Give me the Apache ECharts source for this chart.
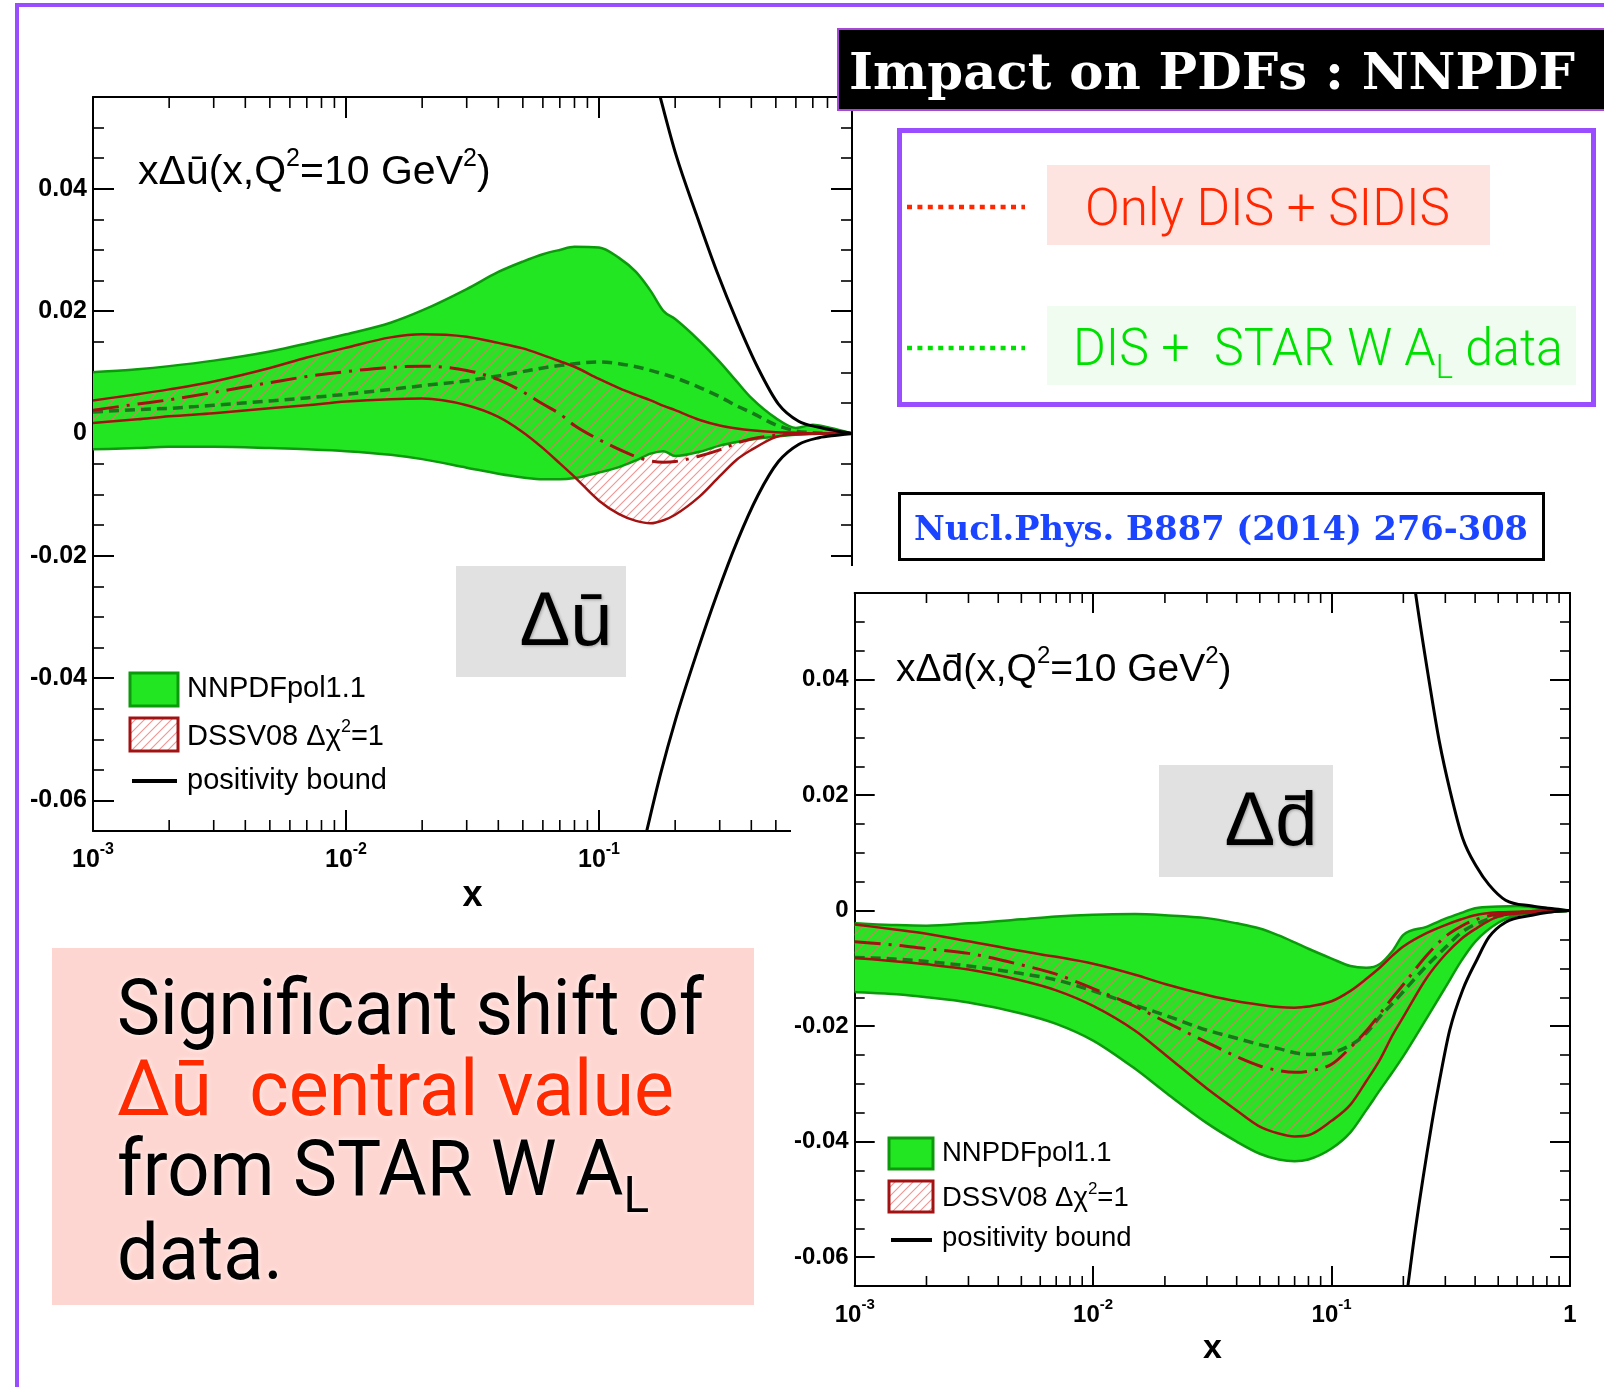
<!DOCTYPE html>
<html>
<head>
<meta charset="utf-8">
<title>Impact on PDFs : NNPDF</title>
<script src="https://cdn.jsdelivr.net/npm/echarts@6.0.0/dist/echarts.min.js"></script>
<style>
  html, body { margin: 0; padding: 0; background: #ffffff; }
  #slide { position: absolute; left: 0; top: 0; width: 1604px; height: 1387px; }
  #dbarPanel { position: absolute; left: 791px; top: 566px; width: 813px; height: 821px; background: #ffffff; }
</style>
</head>
<body>
<div id="slide"></div>
<div id="dbarPanel"></div>
<script>
// ---------------------------------------------------------------------------
// Data: x grid and PDF curves at Q^2 = 10 GeV^2
// ---------------------------------------------------------------------------
const X_GRID = [0.001, 0.0015, 0.002, 0.003, 0.005, 0.007, 0.01, 0.015, 0.02, 0.03,
                0.04, 0.05, 0.06, 0.07, 0.08, 0.1, 0.12, 0.14, 0.16, 0.18,
                0.2, 0.25, 0.3, 0.35, 0.4, 0.5, 0.6, 0.7, 0.8, 1.0];

// x * Delta u-bar
const UBAR_NNPDF_HI = [0.0100, 0.0105, 0.0110, 0.0119, 0.0134, 0.0147, 0.0162, 0.0181, 0.0201, 0.0236,
                       0.0264, 0.0281, 0.0293, 0.0300, 0.0305, 0.0304, 0.0287, 0.0264, 0.0233, 0.0200,
                       0.0187, 0.0151, 0.0117, 0.0085, 0.0058, 0.0025, 0.0009, 0.0014, 0.0010, 0];
const UBAR_NNPDF_LO = [-0.0026, -0.0024, -0.0022, -0.0022, -0.0024, -0.0026, -0.0029, -0.0035, -0.0042, -0.0056,
                       -0.0066, -0.0072, -0.0075, -0.0075, -0.0073, -0.0064, -0.0055, -0.0044, -0.0033, -0.0029,
                       -0.0037, -0.0030, -0.0020, -0.0014, -0.0010, -0.0005, -0.0002, -0.0001, 0, 0];
const UBAR_NNPDF_CV = [0.0035, 0.0039, 0.0041, 0.0046, 0.0053, 0.0058, 0.0064, 0.0072, 0.0078, 0.0086,
                       0.0094, 0.0101, 0.0107, 0.0111, 0.0114, 0.0117, 0.0114, 0.0109, 0.0103, 0.0097,
                       0.0091, 0.0075, 0.0060, 0.0045, 0.0034, 0.0014, 0.0004, 0.0001, 0, 0];
const UBAR_DSSV_HI  = [0.0054, 0.0064, 0.0072, 0.0085, 0.0107, 0.0124, 0.0140, 0.0157, 0.0162, 0.0158,
                       0.0148, 0.0139, 0.0128, 0.0118, 0.0109, 0.0089, 0.0074, 0.0063, 0.0054, 0.0045,
                       0.0038, 0.0022, 0.0013, 0.0008, 0.0005, 0.0002, 0.0001, 0, 0, 0];
const UBAR_DSSV_LO  = [0.0017, 0.0023, 0.0028, 0.0033, 0.0041, 0.0046, 0.0052, 0.0056, 0.0057, 0.0046,
                       0.0027, 0.0002, -0.0024, -0.0049, -0.0071, -0.0110, -0.0132, -0.0143, -0.0147, -0.0142,
                       -0.0133, -0.0103, -0.0070, -0.0043, -0.0027, -0.0006, -0.0001, 0, 0, 0];
const UBAR_DSSV_CV  = [0.0038, 0.0048, 0.0055, 0.0067, 0.0083, 0.0093, 0.0101, 0.0108, 0.0110, 0.0103,
                       0.0088, 0.0068, 0.0048, 0.0032, 0.0013, -0.0010, -0.0026, -0.0038, -0.0045, -0.0047,
                       -0.0046, -0.0037, -0.0027, -0.0016, -0.0009, -0.0003, -0.0001, 0, 0, 0];
const UBAR_POS_X  = [0.141, 0.155, 0.175, 0.201, 0.243, 0.292, 0.352, 0.425, 0.512, 0.615, 0.741, 0.871, 1.0];
const UBAR_POS_UP = [0.071, 0.063, 0.0548, 0.0457, 0.0357, 0.0265, 0.0182, 0.0107, 0.0048, 0.0020, 0.0010, 0.0004, 0];
const UBAR_POS_DN = [-0.072, -0.0647, -0.0557, -0.0467, -0.0360, -0.0264, -0.0176, -0.0101, -0.0046, -0.0018, -0.0007, -0.0003, 0];

// x * Delta d-bar
const DBAR_NNPDF_HI = [-0.0022, -0.0025, -0.0026, -0.0022, -0.0015, -0.0010, -0.0007, -0.0006, -0.0008, -0.0013,
                       -0.0022, -0.0031, -0.0043, -0.0055, -0.0066, -0.0083, -0.0096, -0.0099, -0.0092, -0.0070,
                       -0.0042, -0.0028, -0.0014, -0.0004, 0.0004, 0.0007, 0.0008, 0.0006, 0.0004, 0];
const DBAR_NNPDF_LO = [-0.0141, -0.0145, -0.0150, -0.0159, -0.0178, -0.0196, -0.0225, -0.0274, -0.0314, -0.0368,
                       -0.0400, -0.0421, -0.0431, -0.0434, -0.0431, -0.0412, -0.0384, -0.0345, -0.0310, -0.0280,
                       -0.0252, -0.0187, -0.0133, -0.0087, -0.0054, -0.0021, -0.0008, -0.0005, -0.0003, 0];
const DBAR_NNPDF_CV = [-0.0081, -0.0084, -0.0088, -0.0096, -0.0109, -0.0120, -0.0139, -0.0164, -0.0181, -0.0207,
                       -0.0221, -0.0232, -0.0239, -0.0246, -0.0249, -0.0246, -0.0233, -0.0212, -0.0183, -0.0161,
                       -0.0140, -0.0096, -0.0064, -0.0038, -0.0024, -0.0010, -0.0004, -0.0002, -0.0001, 0];
const DBAR_DSSV_HI  = [-0.0024, -0.0033, -0.0040, -0.0053, -0.0070, -0.0080, -0.0092, -0.0111, -0.0127, -0.0146,
                       -0.0157, -0.0163, -0.0167, -0.0168, -0.0166, -0.0157, -0.0139, -0.0118, -0.0098, -0.0078,
                       -0.0062, -0.0039, -0.0025, -0.0015, -0.0008, -0.0003, -0.0002, -0.0001, 0, 0];
const DBAR_DSSV_LO  = [-0.0082, -0.0088, -0.0093, -0.0102, -0.0121, -0.0138, -0.0165, -0.0208, -0.0249, -0.0308,
                       -0.0346, -0.0374, -0.0386, -0.0391, -0.0389, -0.0364, -0.0336, -0.0295, -0.0257, -0.0216,
                       -0.0184, -0.0117, -0.0076, -0.0049, -0.0032, -0.0010, -0.0005, -0.0003, -0.0001, 0];
const DBAR_DSSV_CV  = [-0.0054, -0.0060, -0.0066, -0.0074, -0.0094, -0.0110, -0.0135, -0.0166, -0.0192, -0.0228,
                       -0.0253, -0.0269, -0.0277, -0.0280, -0.0278, -0.0266, -0.0237, -0.0208, -0.0178, -0.0151,
                       -0.0128, -0.0078, -0.0045, -0.0027, -0.0016, -0.0006, -0.0003, -0.0001, 0, 0];
const DBAR_POS_X  = [0.19, 0.209, 0.225, 0.263, 0.284, 0.313, 0.355, 0.407, 0.457, 0.537, 0.692, 0.813, 1.0];
const DBAR_POS_UP = [0.078, 0.065, 0.055, 0.037, 0.029, 0.021, 0.0125, 0.0075, 0.0045, 0.0018, 0.0008, 0.0004, 0];
const DBAR_POS_DN = [-0.078, -0.065, -0.055, -0.037, -0.0293, -0.0207, -0.0137, -0.0085, -0.0046, -0.0020, -0.0008, -0.0003, 0];

// axis ranges and log minor tick positions
const X_RANGE = [0.001, 1];
const Y_RANGE = [-0.065, 0.055];
const MINOR_X = [0.002, 0.003, 0.004, 0.005, 0.006, 0.007, 0.008, 0.009,
                 0.02, 0.03, 0.04, 0.05, 0.06, 0.07, 0.08, 0.09,
                 0.2, 0.3, 0.4, 0.5, 0.6, 0.7, 0.8, 0.9];

// slide texts
const HEADLINE = 'Impact on PDFs : NNPDF';
const KEY_DIS = 'Only DIS + SIDIS';
const REFERENCE = 'Nucl.Phys. B887 (2014) 276-308';

// ---------------------------------------------------------------------------
// Styles
// ---------------------------------------------------------------------------
const SANS = '"Liberation Sans", Arial, Helvetica, sans-serif';
const SLIDE_FONT = 'Roboto, "Liberation Sans", sans-serif';
const SERIF = '"DejaVu Serif", "Liberation Serif", serif';
const GREEN_FILL = '#22e622';
const GREEN_EDGE = '#0c9a0c';
const GREEN_CV = '#17781a';
const DSSV_RED = '#a31212';
const PURPLE = '#9a4dff';

function hatchPattern() {
  const n = 9;
  const c = document.createElement('canvas');
  c.width = n; c.height = n;
  const g = c.getContext('2d');
  g.strokeStyle = 'rgba(240, 110, 110, 0.75)';
  g.lineWidth = 1.1;
  g.beginPath();
  g.moveTo(0, n); g.lineTo(n, 0);
  g.moveTo(-n, n); g.lineTo(n, -n);
  g.moveTo(0, 2 * n); g.lineTo(2 * n, 0);
  g.stroke();
  return { image: c, repeat: 'repeat' };
}
const HATCH = hatchPattern();

const measureCtx = document.createElement('canvas').getContext('2d');
function textWidth(parts) {
  let w = 0;
  for (const [s, f] of parts) { measureCtx.font = f; w += measureCtx.measureText(s).width; }
  return w;
}
function fitScale(parts, target) { return target / textWidth(parts); }

// ---------------------------------------------------------------------------
// Monotone cubic path through pixel points (no overshoot between samples)
// ---------------------------------------------------------------------------
function monoSegments(P) {
  const n = P.length, dx = [], m = [], t = new Array(n);
  for (let i = 0; i < n - 1; i++) {
    dx[i] = P[i + 1][0] - P[i][0];
    m[i] = dx[i] === 0 ? 0 : (P[i + 1][1] - P[i][1]) / dx[i];
  }
  t[0] = m[0]; t[n - 1] = m[n - 2];
  for (let i = 1; i < n - 1; i++) t[i] = (m[i - 1] * m[i] <= 0) ? 0 : (m[i - 1] + m[i]) / 2;
  for (let i = 0; i < n - 1; i++) {
    if (m[i] === 0) { t[i] = 0; t[i + 1] = 0; continue; }
    const a = t[i] / m[i], b = t[i + 1] / m[i], s = a * a + b * b;
    if (s > 9) { const k = 3 / Math.sqrt(s); t[i] = k * a * m[i]; t[i + 1] = k * b * m[i]; }
  }
  const segs = [];
  for (let i = 0; i < n - 1; i++) {
    const h = dx[i] / 3;
    segs.push([P[i], [P[i][0] + h, P[i][1] + t[i] * h], [P[i + 1][0] - h, P[i + 1][1] - t[i + 1] * h], P[i + 1]]);
  }
  return segs;
}
const f2 = v => v.toFixed(2);
function forwardPath(segs, cmd) {
  let d = cmd + f2(segs[0][0][0]) + ',' + f2(segs[0][0][1]);
  for (const s of segs) d += 'C' + f2(s[1][0]) + ',' + f2(s[1][1]) + ' ' + f2(s[2][0]) + ',' + f2(s[2][1]) + ' ' + f2(s[3][0]) + ',' + f2(s[3][1]);
  return d;
}
function reversePath(segs, cmd) {
  const r = segs.slice().reverse().map(s => [s[3], s[2], s[1], s[0]]);
  return forwardPath(r, cmd);
}

// a single curve (line) drawn through the cartesian scales
function curveSeries(name, xs, ys, style) {
  return {
    type: 'custom', name, silent: true, animation: false, clip: true, z: 3,
    data: xs.map((x, i) => [x, ys[i]]),
    renderItem(params, api) {
      if (params.dataIndex !== 0) return null;
      const P = xs.map((x, i) => api.coord([x, ys[i]]));
      return { type: 'path', shape: { pathData: forwardPath(monoSegments(P), 'M') },
               style: Object.assign({ fill: 'none', lineJoin: 'round' }, style) };
    }
  };
}
// a filled band between two curves
function bandSeries(name, xs, hi, lo, fill) {
  return {
    type: 'custom', name, silent: true, animation: false, clip: true, z: 2,
    data: xs.map((x, i) => [x, lo[i], hi[i]]),
    renderItem(params, api) {
      if (params.dataIndex !== 0) return null;
      const H = xs.map((x, i) => api.coord([x, hi[i]]));
      const L = xs.map((x, i) => api.coord([x, lo[i]]));
      const d = forwardPath(monoSegments(H), 'M') + reversePath(monoSegments(L), 'L') + 'Z';
      return { type: 'path', shape: { pathData: d }, style: { fill, stroke: 'none' } };
    }
  };
}

// ---------------------------------------------------------------------------
// Axes and series shared by both panels
// ---------------------------------------------------------------------------
function panelAxes(o) {
  const line = { show: true, onZero: false, lineStyle: { color: '#000', width: 2 } };
  const tick = { show: true, inside: true, length: o.major, lineStyle: { color: '#000', width: 2 } };
  const fmtX = v => {
    const e = Math.round(Math.log10(v));
    return e === 0 ? '{b|1}' : '{b|10}{s|' + e + '}';
  };
  const sup = Math.round(o.label * 0.64);
  const xRich = {
    b: { fontFamily: SANS, fontWeight: 'bold', fontSize: o.label, color: '#000', lineHeight: o.label + 6, verticalAlign: 'bottom' },
    s: { fontFamily: SANS, fontWeight: 'bold', fontSize: sup, color: '#000', lineHeight: sup + 2, verticalAlign: 'top' }
  };
  const xBase = { type: 'log', logBase: 10, min: X_RANGE[0], max: X_RANGE[1], axisLine: line, axisTick: tick,
                  splitLine: { show: false }, minorTick: { show: false } };
  const yBase = { type: 'value', min: Y_RANGE[0], max: Y_RANGE[1], splitNumber: 6, axisLine: line, axisTick: tick,
                  minorTick: { show: true, splitNumber: 4, length: o.minor, lineStyle: { color: '#000', width: 1.6 } },
                  splitLine: { show: false }, minorSplitLine: { show: false } };
  return {
    xAxis: [
      { ...xBase, position: 'bottom',
        axisLabel: { margin: o.xMargin, formatter: fmtX, rich: xRich, color: '#000' },
        name: 'x', nameLocation: 'middle', nameGap: o.nameGap,
        nameTextStyle: { fontFamily: SANS, fontWeight: 'bold', fontSize: o.name, color: '#000' } },
      { ...xBase, position: 'top', axisLabel: { show: false } }
    ],
    yAxis: [
      { ...yBase, position: 'left',
        axisLabel: { margin: 6, showMinLabel: false, showMaxLabel: false, fontFamily: SANS,
                     fontWeight: 'bold', fontSize: o.label, color: '#000' } },
      { ...yBase, position: 'right', axisLabel: { show: false } }
    ]
  };
}

function minorTickSeries(len) {
  return {
    type: 'custom', name: 'log minor ticks', silent: true, animation: false, clip: false, z: 5,
    data: MINOR_X.map(x => [x, 0]),
    renderItem(params, api) {
      const cs = params.coordSys;
      const px = api.coord([api.value(0), 0])[0];
      const st = { stroke: '#000', lineWidth: 1.6 };
      const b = cs.y + cs.height;
      return { type: 'group', children: [
        { type: 'line', shape: { x1: px, y1: b, x2: px, y2: b - len }, style: st },
        { type: 'line', shape: { x1: px, y1: cs.y, x2: px, y2: cs.y + len }, style: st }
      ] };
    }
  };
}

function panelSeries(c) {
  return [
    bandSeries('NNPDFpol1.1', c.x, c.nnHi, c.nnLo, GREEN_FILL),
    bandSeries('DSSV08', c.x, c.dsHi, c.dsLo, HATCH),
    curveSeries('NNPDF upper', c.x, c.nnHi, { stroke: GREEN_EDGE, lineWidth: 2.5 }),
    curveSeries('NNPDF lower', c.x, c.nnLo, { stroke: GREEN_EDGE, lineWidth: 2.5 }),
    curveSeries('NNPDF central', c.x, c.nnCv, { stroke: GREEN_CV, lineWidth: 3.5, lineDash: [10, 6] }),
    curveSeries('DSSV upper', c.x, c.dsHi, { stroke: DSSV_RED, lineWidth: 2.5 }),
    curveSeries('DSSV lower', c.x, c.dsLo, { stroke: DSSV_RED, lineWidth: 2.5 }),
    curveSeries('DSSV central', c.x, c.dsCv, { stroke: DSSV_RED, lineWidth: 3, lineDash: [26, 8, 3, 8] }),
    curveSeries('positivity bound', c.posX, c.posUp, { stroke: '#000', lineWidth: 3 }),
    curveSeries('positivity bound (lower)', c.posX, c.posDn, { stroke: '#000', lineWidth: 3 }),
    minorTickSeries(c.minorLen)
  ];
}

// in-frame legend, title and flavour tag of one panel
function panelDecor(d) {
  const t = (x, y, style) => ({ type: 'text', x, y, z: 60,
    style: Object.assign({ align: 'left', textAlign: 'left', verticalAlign: 'middle', textVerticalAlign: 'middle', fill: '#000' }, style) });
  const supStyle = (fs, lh) => ({ fontFamily: SANS, fontSize: fs, fill: '#000', lineHeight: lh, verticalAlign: 'top' });
  const mainStyle = (fs, lh) => ({ fontFamily: SANS, fontSize: fs, fill: '#000', lineHeight: lh, verticalAlign: 'bottom' });
  return [
    t(d.title.x, d.title.y, {
      text: '{t|' + d.title.head + '(x,Q}{s|2}{t|=10 GeV}{s|2}{t|)}',
      rich: { t: mainStyle(d.title.fs, d.title.fs + 6), s: supStyle(Math.round(d.title.fs * 0.62), Math.round(d.title.fs * 0.62) + 2) }
    }),
    // legend
    { type: 'rect', z: 60, shape: { x: d.leg.x, y: d.leg.y1, width: d.leg.w, height: d.leg.h },
      style: { fill: GREEN_FILL, stroke: GREEN_EDGE, lineWidth: 3 } },
    { type: 'rect', z: 60, shape: { x: d.leg.x, y: d.leg.y2, width: d.leg.w, height: d.leg.h },
      style: { fill: HATCH, stroke: DSSV_RED, lineWidth: 3 } },
    { type: 'line', z: 60, shape: { x1: d.leg.x + 2, y1: d.leg.yLine, x2: d.leg.x + d.leg.w - 1, y2: d.leg.yLine },
      style: { stroke: '#000', lineWidth: 4 } },
    t(d.leg.tx, d.leg.ty[0], { text: 'NNPDFpol1.1', fontFamily: SANS, fontSize: d.leg.fs }),
    t(d.leg.tx, d.leg.ty[1], {
      text: '{a|DSSV08 Δχ}{s|2}{a|=1}',
      rich: { a: mainStyle(d.leg.fs, d.leg.fs + 4), s: supStyle(Math.round(d.leg.fs * 0.62), Math.round(d.leg.fs * 0.62) + 2) }
    }),
    t(d.leg.tx, d.leg.ty[2], { text: 'positivity bound', fontFamily: SANS, fontSize: d.leg.fs }),
    // flavour tag
    { type: 'rect', z: 60, shape: d.tag.box, style: { fill: '#e1e1e1' } },
    t(d.tag.cx, d.tag.cy, { text: d.tag.text, fontFamily: SANS, fontSize: 76, align: 'center', textAlign: 'center',
      textShadowColor: 'rgba(0,0,0,0.3)', textShadowBlur: 3, textShadowOffsetX: 1, textShadowOffsetY: 1 })
  ];
}

// ---------------------------------------------------------------------------
// Slide chart (u-bar panel and slide annotations)
// ---------------------------------------------------------------------------
const slide = echarts.init(document.getElementById('slide'), null, { renderer: 'canvas', width: 1604, height: 1387 });

const headFont = 'bold 50px "DejaVu Serif"';
const keyFont = '300 52px Roboto';
const keySubFont = '300 34px Roboto';
const refFont = 'bold 34px "DejaVu Serif"';
const msgFont = '400 78px Roboto';
const msgSubFont = '400 50px Roboto';
const msgShadow = { textShadowColor: 'rgba(255,255,255,0.9)', textShadowBlur: 5 };

const slideText = (x, y, scaleX, style) => ({ type: 'text', x, y, scaleX, z: 60,
  style: Object.assign({ align: 'left', textAlign: 'left', verticalAlign: 'middle', textVerticalAlign: 'middle' }, style) });

const slideGraphics = [
  // slide frame
  { type: 'line', z: 60, shape: { x1: 15, y1: 5, x2: 1604, y2: 5 }, style: { stroke: PURPLE, lineWidth: 4 } },
  { type: 'line', z: 60, shape: { x1: 17, y1: 3, x2: 17, y2: 1387 }, style: { stroke: PURPLE, lineWidth: 4 } },
  // headline
  { type: 'rect', z: 60, shape: { x: 838, y: 29, width: 770, height: 81 }, style: { fill: '#000', stroke: '#a848d8', lineWidth: 2 } },
  slideText(849, 76, fitScale([[HEADLINE, headFont]], 726),
    { text: HEADLINE, fontFamily: SERIF, fontWeight: 'bold', fontSize: 50, fill: '#fff' }),
  // fit key
  { type: 'rect', z: 60, shape: { x: 899.5, y: 130.5, width: 694, height: 274 }, style: { fill: '#fff', stroke: PURPLE, lineWidth: 5 } },
  { type: 'line', z: 60, shape: { x1: 907, y1: 207, x2: 1025, y2: 207 }, style: { stroke: '#ff2600', lineWidth: 4.5, lineDash: [5, 5.4] } },
  { type: 'rect', z: 60, shape: { x: 1047, y: 165, width: 443, height: 80 }, style: { fill: '#fde4e1' } },
  slideText(1085, 212, fitScale([[KEY_DIS, keyFont]], 365),
    { text: KEY_DIS, fontFamily: SLIDE_FONT, fontWeight: 300, fontSize: 52, fill: '#ff2600' }),
  { type: 'line', z: 60, shape: { x1: 907, y1: 348, x2: 1025, y2: 348 }, style: { stroke: '#00e000', lineWidth: 4.5, lineDash: [5, 5.4] } },
  { type: 'rect', z: 60, shape: { x: 1047, y: 306, width: 529, height: 79 }, style: { fill: '#effcef' } },
  slideText(1073, 356, fitScale([['DIS +  STAR W A', keyFont], ['L', keySubFont], [' data', keyFont]], 490), {
    text: '{g|DIS +  STAR W A}{l|L}{g| data}',
    rich: {
      g: { fontFamily: SLIDE_FONT, fontWeight: 300, fontSize: 52, fill: '#00e000', lineHeight: 60, verticalAlign: 'top' },
      l: { fontFamily: SLIDE_FONT, fontWeight: 300, fontSize: 34, fill: '#00e000', lineHeight: 34, verticalAlign: 'bottom' }
    }
  }),
  // reference
  { type: 'rect', z: 60, shape: { x: 899.5, y: 493.5, width: 644, height: 66 }, style: { fill: '#fff', stroke: '#000', lineWidth: 3 } },
  slideText(914, 531, fitScale([[REFERENCE, refFont]], 614),
    { text: REFERENCE, fontFamily: SERIF, fontWeight: 'bold', fontSize: 34, fill: '#1a44ff' }),
  // message
  { type: 'rect', z: 60, shape: { x: 52, y: 948, width: 702, height: 357 }, style: { fill: '#fed6d1' } },
  slideText(117, 1014, fitScale([['Significant shift of', msgFont]], 587),
    Object.assign({ text: 'Significant shift of', fontFamily: SLIDE_FONT, fontSize: 78, fill: '#000' }, msgShadow)),
  slideText(117, 1095, fitScale([['Δū  central value', msgFont]], 557),
    Object.assign({ text: 'Δū  central value', fontFamily: SLIDE_FONT, fontSize: 78, fill: '#ff2a00' }, msgShadow)),
  slideText(117, 1180, fitScale([['from STAR W A', msgFont], ['L', msgSubFont]], 532), {
    text: '{k|from STAR W A}{l|L}',
    rich: {
      k: Object.assign({ fontFamily: SLIDE_FONT, fontSize: 78, fill: '#000', lineHeight: 88, verticalAlign: 'top' }, msgShadow),
      l: Object.assign({ fontFamily: SLIDE_FONT, fontSize: 50, fill: '#000', lineHeight: 50, verticalAlign: 'bottom' }, msgShadow)
    }
  }),
  slideText(117, 1259, fitScale([['data.', msgFont]], 166),
    Object.assign({ text: 'data.', fontFamily: SLIDE_FONT, fontSize: 78, fill: '#000' }, msgShadow))
].concat(panelDecor({
  title: { x: 138, y: 170, fs: 41, head: 'xΔū' },
  leg: { x: 130, y1: 673, y2: 718, w: 48, h: 33, yLine: 781, tx: 187, ty: [689, 735, 781], fs: 29 },
  tag: { box: { x: 456, y: 566, width: 170, height: 111 }, cx: 566, cy: 624, text: 'Δū' }
}));

slide.setOption(Object.assign({
  backgroundColor: '#ffffff',
  animation: false,
  grid: [{ left: 93, top: 97, width: 759, height: 734 }],
  series: panelSeries({
    x: X_GRID, nnHi: UBAR_NNPDF_HI, nnLo: UBAR_NNPDF_LO, nnCv: UBAR_NNPDF_CV,
    dsHi: UBAR_DSSV_HI, dsLo: UBAR_DSSV_LO, dsCv: UBAR_DSSV_CV,
    posX: UBAR_POS_X, posUp: UBAR_POS_UP, posDn: UBAR_POS_DN, minorLen: 11
  }),
  graphic: { elements: slideGraphics }
}, panelAxes({ major: 21, minor: 11, label: 25, xMargin: 11, name: 36, nameGap: 46 })));

// ---------------------------------------------------------------------------
// d-bar panel
// ---------------------------------------------------------------------------
const dbar = echarts.init(document.getElementById('dbarPanel'), null, { renderer: 'canvas', width: 813, height: 821 });
dbar.setOption(Object.assign({
  backgroundColor: '#ffffff',
  animation: false,
  grid: [{ left: 63, top: 27, width: 716, height: 693 }],
  series: panelSeries({
    x: X_GRID, nnHi: DBAR_NNPDF_HI, nnLo: DBAR_NNPDF_LO, nnCv: DBAR_NNPDF_CV,
    dsHi: DBAR_DSSV_HI, dsLo: DBAR_DSSV_LO, dsCv: DBAR_DSSV_CV,
    posX: DBAR_POS_X, posUp: DBAR_POS_UP, posDn: DBAR_POS_DN, minorLen: 10
  }),
  graphic: { elements: panelDecor({
    title: { x: 105, y: 101, fs: 39, head: 'xΔd\u0304' },
    leg: { x: 98, y1: 572, y2: 615, w: 44, h: 31, yLine: 674, tx: 151, ty: [587, 631, 672], fs: 27.5 },
    tag: { box: { x: 368, y: 199, width: 174, height: 112 }, cx: 480, cy: 258, text: 'Δd\u0304' }
  }) }
}, panelAxes({ major: 20, minor: 10, label: 24, xMargin: 11, name: 34, nameGap: 44 })));
</script>
</body>
</html>
